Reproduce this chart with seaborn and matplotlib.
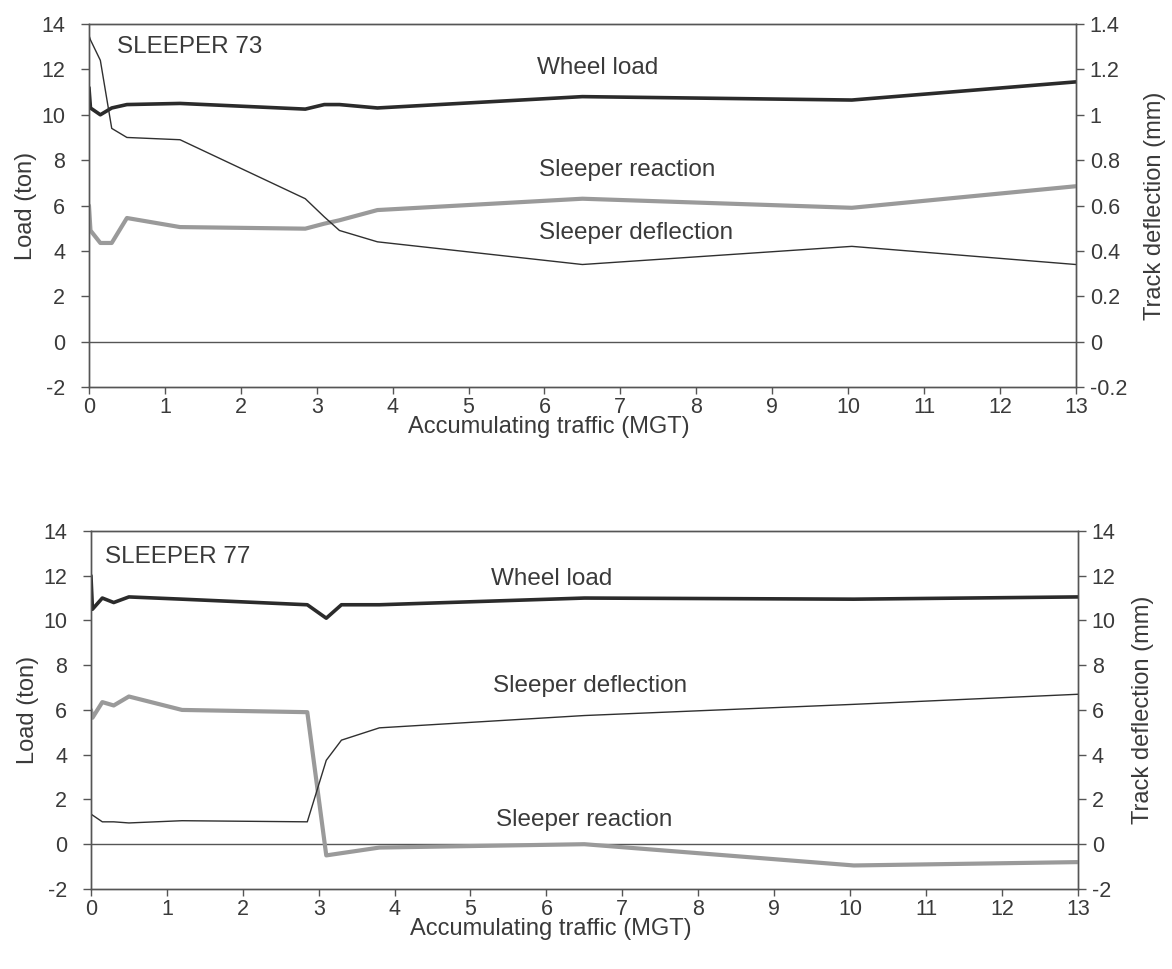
import numpy as np
import pandas as pd
import matplotlib
matplotlib.use("Agg")
import matplotlib.pyplot as plt
from matplotlib.ticker import FuncFormatter
import seaborn as sns

# Accumulated traffic at each measurement (MGT)
traffic = [0, 0.02, 0.15, 0.3, 0.5, 1.2, 2.85, 3.1, 3.3, 3.8, 6.5, 10.05, 13]

# Sleeper 73
s73_wheel_load = [11.2, 10.3, 10.0, 10.3, 10.45, 10.5, 10.25, 10.45, 10.45, 10.3, 10.8, 10.65, 11.45]
s73_reaction = [6.0, 4.9, 4.35, 4.35, 5.45, 5.05, 4.98, 5.2, 5.35, 5.8, 6.3, 5.9, 6.85]
s73_deflection = [1.35, 1.33, 1.24, 0.94, 0.90, 0.89, 0.63, 0.55, 0.49, 0.44, 0.34, 0.42, 0.34]

# Sleeper 77
s77_wheel_load = [12.0, 10.5, 11.0, 10.8, 11.05, 10.95, 10.7, 10.1, 10.7, 10.7, 11.0, 10.95, 11.05]
s77_reaction = [6.0, 5.65, 6.35, 6.2, 6.6, 6.0, 5.9, -0.5, -0.4, -0.15, 0.0, -0.95, -0.8]
s77_deflection = [1.35, 1.3, 1.0, 1.0, 0.95, 1.05, 1.0, 3.75, 4.65, 5.2, 5.75, 6.25, 6.7]

x_ticks = list(range(0, 14))
load_ticks = [-2, 0, 2, 4, 6, 8, 10, 12, 14]
defl73_ticks = [-0.2, 0, 0.2, 0.4, 0.6, 0.8, 1.0, 1.2, 1.4]
defl77_ticks = [-2, 0, 2, 4, 6, 8, 10, 12, 14]

sns.set_style("ticks")
plt.rcParams["font.family"] = ["Liberation Sans", "DejaVu Sans"]
plt.rcParams["axes.unicode_minus"] = False

TEXT = "#3a3a3a"
WHEEL = "#2b2b2b"
REACT = "#9a9a9a"
DEFL = "#303030"
TICK_FS = 15.5
LABEL_FS = 17
NOTE_FS = 17.5

fig = plt.figure(figsize=(11.72, 9.69), dpi=100)
ax_top = fig.add_axes([0.0759, 0.6006, 0.842, 0.3746])
ax_bot = fig.add_axes([0.0776, 0.0826, 0.842, 0.3695])


def style_axes(ax):
    for s in ax.spines.values():
        s.set_color("#555555")
        s.set_linewidth(1.0)
    ax.tick_params(direction="out", width=1, colors="#555555",
                   labelcolor=TEXT, labelsize=TICK_FS)


def panel(ax, wheel, react, defl, rticks, rlim, title, title_xy, labels):
    df = pd.DataFrame({"traffic": traffic, "wheel": wheel, "react": react, "defl": defl})
    ax.axhline(0, color="#555555", lw=1.0, zorder=1)
    sns.lineplot(data=df, x="traffic", y="wheel", ax=ax, color=WHEEL, lw=2.6,
                 sort=False, zorder=4)
    sns.lineplot(data=df, x="traffic", y="react", ax=ax, color=REACT, lw=3.0,
                 sort=False, zorder=3)
    ax.set_xlim(0, 13)
    ax.set_ylim(-2, 14)
    ax.set_xticks(x_ticks)
    ax.set_yticks(load_ticks)
    ax.set_xlabel("Accumulating traffic (MGT)", fontsize=LABEL_FS, color=TEXT,
                  labelpad=-1, x=0.466)
    ax.set_ylabel("Load (ton)", fontsize=LABEL_FS, color=TEXT, labelpad=3)
    style_axes(ax)
    ax.tick_params(axis="x", length=5, pad=2)
    ax.tick_params(axis="y", length=6, pad=11)

    ax2 = ax.twinx()
    sns.lineplot(data=df, x="traffic", y="defl", ax=ax2, color=DEFL, lw=1.0,
                 sort=False, zorder=2)
    ax2.set_ylim(*rlim)
    ax2.set_yticks(rticks)
    ax2.yaxis.set_major_formatter(FuncFormatter(lambda v, p: f"{v:g}"))
    ax2.set_ylabel("Track deflection (mm)", fontsize=LABEL_FS, color=TEXT, labelpad=12)
    ax2.set_xlim(0, 13)
    style_axes(ax2)
    ax2.tick_params(axis="y", length=6, pad=4)

    ax.text(title_xy[0], title_xy[1], title, transform=ax.transAxes, fontsize=NOTE_FS,
            color=TEXT, va="center", ha="left")
    for (tx, ty, s) in labels:
        ax.text(tx, ty, s, fontsize=NOTE_FS, color=TEXT, ha="center", va="center")
    return ax2


panel(ax_top, s73_wheel_load, s73_reaction, s73_deflection, defl73_ticks, (-0.2, 1.4),
      "SLEEPER 73", (0.028, 0.937),
      [(6.7, 12.07, "Wheel load"), (7.09, 7.58, "Sleeper reaction"),
       (7.21, 4.8, "Sleeper deflection")])
panel(ax_bot, s77_wheel_load, s77_reaction, s77_deflection, defl77_ticks, (-2, 14),
      "SLEEPER 77", (0.014, 0.927),
      [(6.07, 11.83, "Wheel load"), (6.57, 7.05, "Sleeper deflection"),
       (6.5, 1.07, "Sleeper reaction")])

fig.savefig("out.png", dpi=100)
